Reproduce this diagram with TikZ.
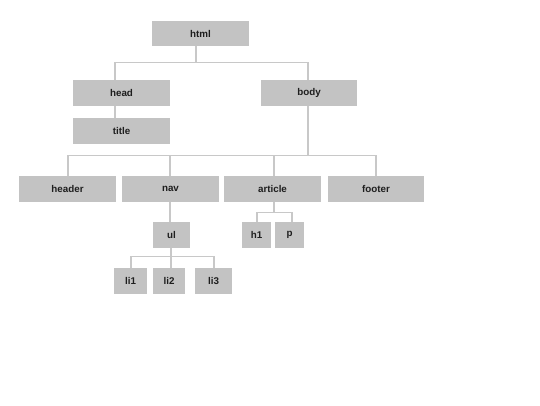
\documentclass[tikz,border=0pt]{standalone}
\usepackage{fontspec}
\setmainfont{Liberation Sans}
\definecolor{boxfill}{HTML}{C3C3C3}
\definecolor{linkcol}{HTML}{C8C8C8}
\definecolor{txt}{HTML}{1E1E1E}
\begin{document}
\begin{tikzpicture}[x=1pt,y=-1pt,
  box/.style={rectangle,fill=boxfill,draw=none,inner sep=0pt,minimum height=26pt,
    text=txt,font=\fontsize{9.8}{11}\selectfont\bfseries},
  wbox/.style={box,minimum width=97pt},
  link/.style={draw=linkcol,line width=1.4pt}]
\fill[white] (0,0) rectangle (540,405);
\useasboundingbox (0,0) rectangle (540,405);
\node[wbox,minimum height=25pt] (html) at (200.5,33.5) {html};
\node[wbox] (head) at (121.5,93) {head};
\node[wbox,minimum width=96pt] (body) at (309,93) {body};
\node[wbox] (title) at (121.5,131) {title};
\node[wbox] (header) at (67.5,189) {header};
\node[wbox] (nav) at (170.5,189) {nav};
\node[wbox] (article) at (272.5,189) {article};
\node[wbox,minimum width=96pt] (footer) at (376,189) {footer};
\node[box,minimum width=37pt] (ul) at (171.5,235) {ul};
\node[box,minimum width=33pt] (li1) at (130.5,281) {li1};
\node[box,minimum width=32pt] (li2) at (169,281) {li2};
\node[box,minimum width=37pt] (li3) at (213.5,281) {li3};
\node[box,minimum width=29pt] (h1) at (256.5,235) {h1};
\node[box,minimum width=29pt] (p) at (289.5,235) {p};
% html children
\draw[link] ([xshift=-4.5pt]html.south) -- ++(0,16) -| ([xshift=-6.5pt]head.north);
\draw[link] ([xshift=-4.5pt]html.south) -- ++(0,16) -| ([xshift=-1pt]body.north);
\draw[link] ([xshift=-6.5pt]head.south) -- ([xshift=-6.5pt]title.north);
% body children
\draw[link] ([xshift=-1pt]body.south) -- ++(0,49) -| ([xshift=0.5pt]header.north);
\draw[link] ([xshift=-1pt]body.south) -- ++(0,49) -| ([xshift=-0.5pt]nav.north);
\draw[link] ([xshift=-1pt]body.south) -- ++(0,49) -| ([xshift=1.5pt]article.north);
\draw[link] ([xshift=-1pt]body.south) -- ++(0,49) -| (footer.north);
% nav
\draw[link] ([xshift=-0.5pt]nav.south) -- ([xshift=-0.5pt]nav.south |- ul.north);
\draw[link] ([xshift=-0.5pt]ul.south) -- ++(0,8) -| ([xshift=0.5pt]li1.north);
\draw[link] ([xshift=-0.5pt]ul.south) -- ++(0,8) -| ([xshift=2pt]li2.north);
\draw[link] ([xshift=-0.5pt]ul.south) -- ++(0,8) -| ([xshift=0.5pt]li3.north);
% article
\draw[link] ([xshift=1.5pt]article.south) -- ++(0,10) -| ([xshift=0.5pt]h1.north);
\draw[link] ([xshift=1.5pt]article.south) -- ++(0,10) -| ([xshift=2.5pt]p.north);
\end{tikzpicture}
\end{document}
